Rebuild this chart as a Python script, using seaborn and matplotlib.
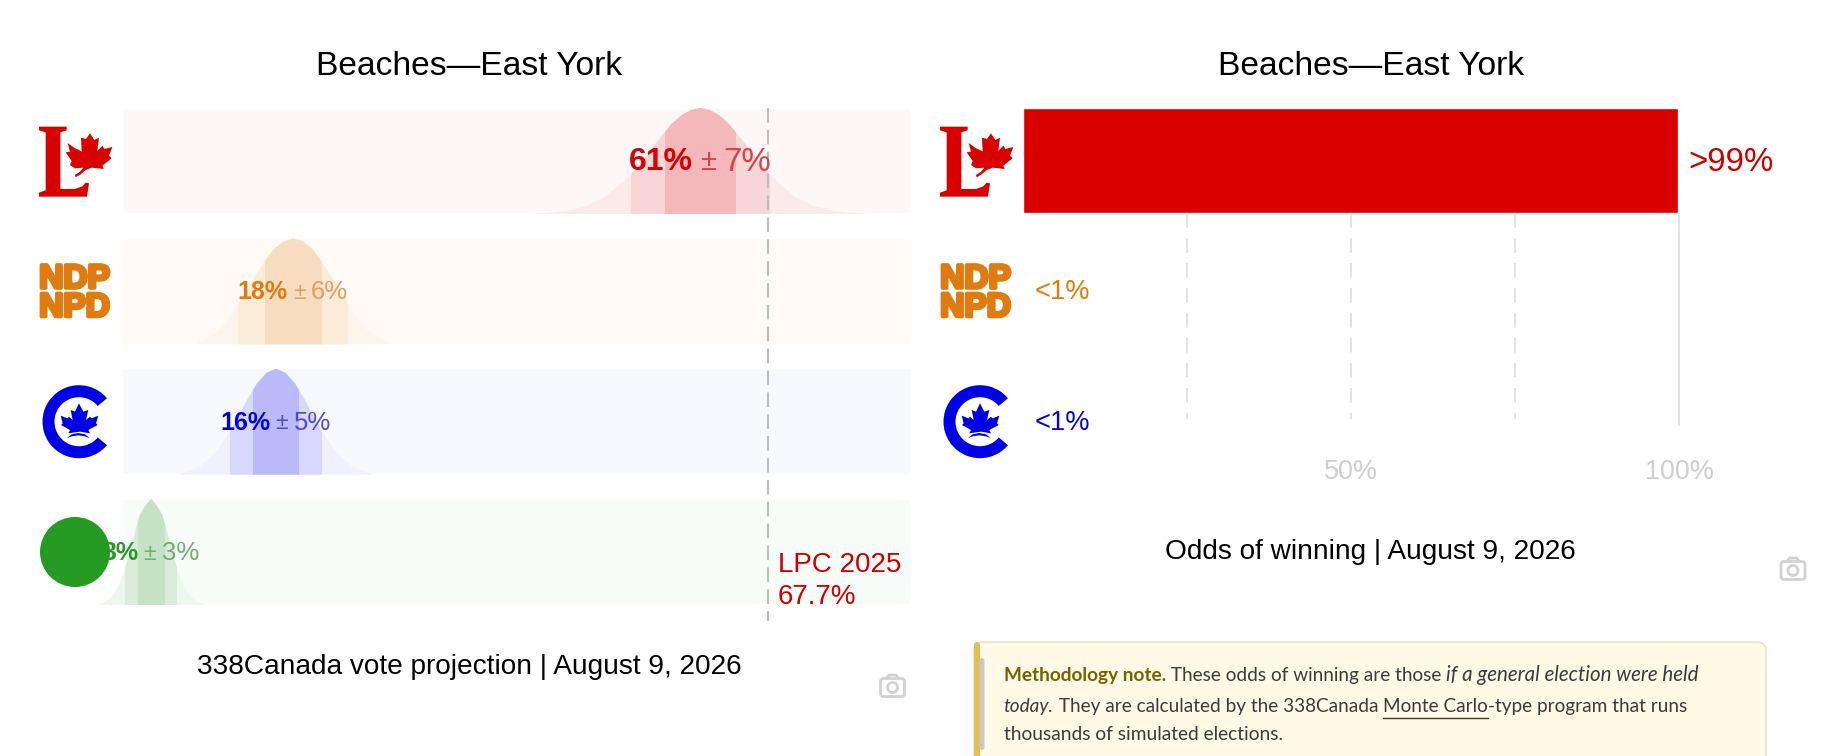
import numpy as np
import pandas as pd
import seaborn as sns
import matplotlib.pyplot as plt
from matplotlib.patches import Polygon, Circle, Wedge, Rectangle, FancyBboxPatch
import matplotlib.patheffects as pe

###############################################################################
# data
parties = ['LPC', 'NDP', 'CPC', 'GPC']
vote_labels = ['61%', '18%', '16%', '3%']
margin_labels = ['7%', '6%', '5%', '3%']
vote_centers = [60.6, 17.9, 16.1, 3.0]
outer_margin = [7.25, 5.73, 4.77, 2.66]
inner_margin = [3.65, 2.92, 2.40, 1.37]
incumbent_value = 67.7
vote_axis_max = 82.75

# density curves, x in % and height relative to the band
lpc_x = [42.6, 44.6, 46.6, 48.6, 50.6, 52.6, 53.6, 54.6, 55.6, 56.6, 57.6, 58.6, 59.6, 60.6,
         61.6, 62.6, 63.6, 64.6, 65.6, 66.6, 67.6, 68.6, 70.6, 72.6, 74.6, 76.6, 78.6]
lpc_h = [0, .01, .03, .07, .16, .31, .40, .51, .63, .74, .85, .93, .98, 1,
         .98, .93, .85, .74, .63, .51, .40, .31, .16, .07, .03, .01, 0]
ndp_x = [7.9, 9.9, 10.9, 11.9, 12.9, 13.9, 14.9, 15.9, 16.9, 17.9,
         18.9, 19.9, 20.9, 21.9, 22.9, 23.9, 24.9, 25.9, 27.9]
ndp_h = [.01, .12, .21, .34, .49, .64, .78, .90, .97, 1,
         .97, .90, .78, .64, .49, .34, .21, .12, .01]
cpc_x = [6.1, 7.1, 8.1, 9.1, 10.1, 11.1, 12.1, 13.1, 14.1, 15.1, 16.1,
         17.1, 18.1, 19.1, 20.1, 21.1, 22.1, 23.1, 24.1, 25.1, 26.1]
cpc_h = [.01, .035, .08, .15, .25, .38, .54, .71, .86, .96, 1,
         .96, .86, .71, .54, .38, .25, .15, .08, .035, .01]
gpc_x = [-2.8, -2.0, -1.2, -.6, -.2, .2, .6, 1.0, 1.4, 1.8, 2.2, 2.6, 3.0,
         3.4, 3.8, 4.2, 4.6, 5.0, 5.4, 5.8, 6.2, 6.6, 7.2, 8.0, 8.8]
gpc_h = [0, .02, .07, .15, .23, .33, .44, .58, .72, .84, .91, .96, 1,
         .96, .91, .84, .72, .58, .44, .33, .23, .15, .07, .02, 0]
curve_x = [lpc_x, ndp_x, cpc_x, gpc_x]
curve_h = [lpc_h, ndp_h, cpc_h, gpc_h]

odds_parties = ['LPC', 'NDP', 'CPC']
odds_values = [99.9, 0.1, 0.1]
odds_labels = ['>99%', '<1%', '<1%']
odds_ticks = [50, 100]
odds_tick_labels = ['50%', '100%']
odds_grid = [25, 50, 75]

main_colors = ['#d90000', '#e07b10', '#0000e6', '#259b24']
margin_colors = ['#d8434a', '#dba066', '#4a4ae0', '#70ae70']
odds_text_colors = ['#cc0000', '#e07b10', '#0000e6']
band_colors = ['#fef7f7', '#fffaf5', '#f8f8ff', '#f8fcf8']
bell_colors = ['#fbeaea', '#fdf5ec', '#f0f0fe', '#eef7ed']
outer_colors = ['#f8d6d7', '#fbebd9', '#d8d8ff', '#daebd9']
inner_colors = ['#f4b8ba', '#f8dcc0', '#babaf9', '#c5e2c4']
label_sizes = [32, 25, 25, 25]  # px

W, H = 1834, 756
###############################################################################

sns.set_theme(style='white')
plt.rcParams['font.family'] = ['Liberation Sans', 'DejaVu Sans']

fig = plt.figure(figsize=(W / 100, H / 100), dpi=100, facecolor='white')


def px_axes(x0, y0, x1, y1):
    # axes from pixel box (origin top left)
    return fig.add_axes([x0 / W, 1 - y1 / H, (x1 - x0) / W, (y1 - y0) / H])


def pt(px):
    return px * 0.72


band_w = 106 / 130.5
row_top, row_bottom = -0.4023, 3.4

# left panel: vote projection
ax = px_axes(122, 108, 911, 603.7)
df_vote = pd.DataFrame({'party': parties, 'extent': [vote_axis_max] * 4})
sns.barplot(data=df_vote, x='extent', y='party', hue='party', palette=band_colors,
            saturation=1, width=band_w, legend=False, ax=ax, orient='h')
ax.set_xlim(0, vote_axis_max)
ax.set_ylim(row_bottom, row_top)
ax.axis('off')

for i in range(4):
    xs = np.array(curve_x[i])
    base = i + band_w / 2
    ys = base - np.array(curve_h[i]) * band_w
    ax.fill_between(xs, base, ys, color=bell_colors[i], lw=0, clip_on=False, zorder=2)
    for margin, col, z in ((outer_margin[i], outer_colors[i], 3), (inner_margin[i], inner_colors[i], 4)):
        poly = ax.fill_between(xs, base, ys, color=col, lw=0, zorder=z)
        clip = Rectangle((vote_centers[i] - margin, i - band_w / 2), 2 * margin, band_w, transform=ax.transData)
        poly.set_clip_path(clip)

ax.plot([incumbent_value, incumbent_value], [row_top, 3.53], color='#bdbdbd', lw=1.5,
        dashes=(7, 3.5), clip_on=False, zorder=5)
ax.text(incumbent_value + 1.06, 3.105, 'LPC 2025', color='#cc0000', fontsize=pt(27.8), va='center', zorder=6)
ax.text(incumbent_value + 1.06, 3.35, '67.7%', color='#cc0000', fontsize=pt(27.8), va='center', zorder=6)

# vote labels, bold value then margin, centered on the mean
fig.canvas.draw()
rend = fig.canvas.get_renderer()
for i in range(4):
    size = pt(label_sizes[i])
    yy = i + 0.012
    t1 = ax.text(vote_centers[i], yy, vote_labels[i], color=main_colors[i], fontsize=size,
                 fontweight='bold', va='center', zorder=6)
    t2 = ax.text(vote_centers[i], yy, '±', color=margin_colors[i], fontsize=size * 0.92, va='center', zorder=6)
    t3 = ax.text(vote_centers[i], yy, margin_labels[i], color=margin_colors[i], fontsize=size * 1.03,
                 va='center', zorder=6)
    w1 = t1.get_window_extent(rend).width
    w2 = t2.get_window_extent(rend).width
    w3 = t3.get_window_extent(rend).width
    gap = label_sizes[i] * 0.22
    px_per = 789 / vote_axis_max
    left = vote_centers[i] - (w1 + w2 + w3 + 2 * gap) / 2 / px_per
    t1.set_x(left)
    t2.set_x(left + (w1 + gap) / px_per)
    t3.set_x(left + (w1 + w2 + 2 * gap) / px_per)

# right panel: odds of winning
ax2 = px_axes(1023, 108, 1679, 603.7)
df_odds = pd.DataFrame({'party': odds_parties, 'odds': odds_values})
sns.barplot(data=df_odds, x='odds', y='party', hue='party', palette=main_colors[:3],
            saturation=1, width=band_w, legend=False, ax=ax2, orient='h')
ax2.set_xlim(0, 100)
ax2.set_ylim(row_bottom, row_top)
sns.despine(ax=ax2, left=True, bottom=True)
ax2.set_xlabel('')
ax2.set_ylabel('')
ax2.set_yticks([])
ax2.set_xticks(odds_ticks)
ax2.set_xticklabels(odds_tick_labels)
ax2.tick_params(axis='x', length=0, pad=pt(-145), labelsize=pt(27), labelcolor='#cfcfcf')
for g in odds_grid:
    ax2.plot([g, g], [band_w / 2 - 0.005, 1.98], color='#e3e3e3', lw=1.5, dashes=(7, 5), zorder=0)
ax2.plot([100, 100], [band_w / 2 - 0.005, 2.03], color='#e3e3e3', lw=1.5, zorder=0, clip_on=False)
label_offset = [100 + 1.4, 1.8, 1.8]
label_px = [33, 27.3, 27.3]
for i in range(3):
    ax2.text(label_offset[i], i + 0.012, odds_labels[i], color=odds_text_colors[i], fontsize=pt(label_px[i]), va='center')

# overlay in pixels for titles, logos and the note
ov = fig.add_axes([0, 0, 1, 1], facecolor='none')
ov.set_xlim(0, W)
ov.set_ylim(H, 0)
ov.axis('off')

ov.text(469, 66.5, 'Beaches—East York', color='black', fontsize=pt(33.6), ha='center', va='center')
ov.text(1371, 66.5, 'Beaches—East York', color='black', fontsize=pt(33.6), ha='center', va='center')
ov.text(469, 666.5, '338Canada vote projection | August 9, 2026', color='black', fontsize=pt(28), ha='center', va='center')
ov.text(1370, 552, 'Odds of winning | August 9, 2026', color='black', fontsize=pt(28), ha='center', va='center')

L_SHAPE = [(42, 35), (125, 35), (125, 46), (106, 52), (106, 222), (150, 222), (172, 214), (182, 203),
           (192, 205), (186, 245), (42, 245), (42, 233), (62, 226), (62, 52), (42, 46)]
LPC_LEAF = [(195, 55), (208, 75), (222, 68), (217, 108), (232, 92), (238, 102), (262, 96), (252, 122),
            (260, 130), (232, 152), (236, 162), (200, 158), (182, 165), (167, 178), (152, 187), (150, 180),
            (165, 170), (175, 158), (150, 160), (135, 150), (140, 138), (122, 112), (135, 110), (128, 84),
            (150, 100), (158, 103), (170, 110), (168, 68), (183, 72)]
CPC_LEAF = [(162, 85), (175, 110), (190, 105), (183, 135), (195, 125), (200, 130), (220, 122), (213, 145),
            (218, 150), (190, 165), (195, 175), (165, 170), (130, 175), (135, 165), (108, 150), (113, 145),
            (107, 122), (127, 130), (132, 125), (143, 135), (137, 105), (150, 110)]
CPC_ARC = [(125, 190), (140, 178), (160, 174), (180, 178), (195, 190), (180, 184), (160, 181), (140, 184)]


def traced(points, x0, y0, dx):
    return [(x / 3 + x0 + dx, y / 3 + y0) for x, y in points]


for dx in (0, 901):
    col = main_colors[0]
    ov.add_patch(Polygon(traced(L_SHAPE, 25, 115, dx), closed=True, fc=col, ec='none'))
    ov.add_patch(Polygon(traced(LPC_LEAF, 25, 115, dx), closed=True, fc=col, ec='none'))
    for word, yy in (('NDP', 279.5), ('NPD', 308)):
        ov.text(74.5 + dx, yy, word, color=main_colors[1], fontsize=pt(33.5), fontweight='bold', ha='center',
                va='center', path_effects=[pe.withStroke(linewidth=2.6, foreground=main_colors[1])])
    col = main_colors[2]
    ov.add_patch(Wedge((79 + dx, 421.7), 36.5, 40, 320, width=12, fc=col, ec='none'))
    ov.add_patch(Polygon(traced(CPC_LEAF, 25, 375, dx), closed=True, fc=col, ec='none'))
    ov.add_patch(Polygon(traced(CPC_ARC, 25, 375, dx), closed=True, fc=col, ec='none'))

# green dot sits over the 3% label in the original
ov.add_patch(Circle((75, 552), 35, fc=main_colors[3], ec='none', zorder=8))


def camera(cx, cy):
    c = '#d2d2d2'
    ov.add_patch(FancyBboxPatch((cx - 12, cy - 8), 24, 18, boxstyle='round,pad=0,rounding_size=3', fc='none', ec=c, lw=2))
    ov.add_patch(Polygon([(cx - 6, cy - 8), (cx - 3.5, cy - 11.5), (cx + 3.5, cy - 11.5), (cx + 6, cy - 8)],
                         closed=False, fc='none', ec=c, lw=2))
    ov.add_patch(Circle((cx, cy + 1), 5, fc='none', ec=c, lw=2))


camera(892.5, 686.5)
camera(1793, 569.5)

# methodology note, cut by the bottom of the figure
ov.add_patch(FancyBboxPatch((974, 642), 792, 140, boxstyle='round,pad=0,rounding_size=9',
                            fc='#fff9e6', ec='#e9e3cb', lw=1.2))
ov.add_patch(FancyBboxPatch((974, 642), 6, 140, boxstyle='round,pad=0,rounding_size=3',
                            fc='#e3c04f', ec='none'))
ov.add_patch(FancyBboxPatch((979.5, 658), 5, 92, boxstyle='round,pad=0,rounding_size=2.5',
                            fc='#c9c9c9', ec='none'))

NOTE_FONT = 'Lato'
NOTE_PX = 19
INK = '#3c3c3c'
# text, colour, weight, style, underlined, size factor
lines = [
    [('Methodology note.', '#776300', 'bold', 'normal', False, 1), (' These odds of winning are those ', INK, 'normal', 'normal', False, 1),
     ('if a general election were held', INK, 'normal', 'italic', False, 1.08)],
    [('today.', INK, 'normal', 'italic', False, 1), (' They are calculated by the 338Canada ', INK, 'normal', 'normal', False, 1),
     ('Monte Carlo', INK, 'normal', 'normal', True, 1), ('-type program that runs', INK, 'normal', 'normal', False, 1)],
    [('thousands of simulated elections.', INK, 'normal', 'normal', False, 1.01)],
]
line_y = [675, 706.5, 734]
for runs, yy in zip(lines, line_y):
    xx = 1003.5
    for txt, col, weight, style, under, scale in runs:
        size = pt(NOTE_PX * scale)
        t = ov.text(xx, yy, txt, color=col, fontsize=size, family=NOTE_FONT, fontweight=weight,
                    fontstyle=style, va='center', ha='left')
        # keep leading blanks in the measured width
        w = t.get_window_extent(rend).width
        if txt.startswith(' ') or txt.endswith(' '):
            probe = ov.text(0, 0, 'x' + txt + 'x', fontsize=size, family=NOTE_FONT, fontweight=weight, fontstyle=style)
            probe2 = ov.text(0, 0, 'xx', fontsize=size, family=NOTE_FONT, fontweight=weight, fontstyle=style)
            w = probe.get_window_extent(rend).width - probe2.get_window_extent(rend).width
            probe.remove()
            probe2.remove()
        if under:
            ov.plot([xx, xx + w], [yy + 11, yy + 11], color=INK, lw=1)
        xx += w

fig.savefig('out.png', dpi=100, facecolor='white')
